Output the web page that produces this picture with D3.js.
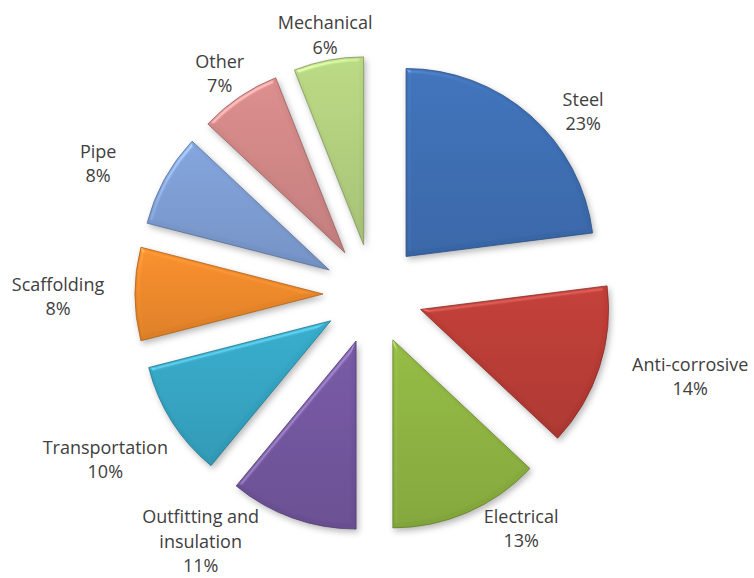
<!DOCTYPE html>
<html>
<head>
<meta charset="utf-8">
<script src="https://cdn.jsdelivr.net/npm/d3@7"></script>
<style>
  html, body { margin: 0; padding: 0; background: #fff; }
  svg { display: block; }
  .lbl { font-family: "Open Sans", "Noto Sans", sans-serif; font-size: 18px; fill: #404040; }
</style>
</head>
<body>
<svg id="chart" width="754" height="578"></svg>
<script>
// Cost breakdown by work package (percent of total)
const categories = ["Steel", "Anti-corrosive", "Electrical", "Outfitting and insulation",
  "Transportation", "Scaffolding", "Pipe", "Other", "Mechanical"];
const shares = [23, 14, 13, 11, 10, 8, 8, 7, 6];
const sliceColors = ["#3b6cb1", "#b83a34", "#8cb13f", "#70539c", "#33a3c2",
  "#ec8728", "#7b9bd1", "#cf8584", "#b0ce7c"];

// Label placement around each slice: angle shift (deg) from the slice middle, distance from pie centre
const labelAngleShift = [7.7, -3.3, -8.8, 15, 0.6, -0.5, -3.5, -0.7, 0.3];
const labelDistance = [278, 328, 278, 302, 315, 315, 304, 268, 263];

const W = 754, H = 578;
const cx = 373, cy = 294;
const radius = 188;
const explode = 50;
const lineHeight = 24.5;

const svg = d3.select("#chart");
svg.append("rect").attr("width", W).attr("height", H).attr("fill", "#fff");

const defs = svg.append("defs");

// Soft bevel highlight plus drop shadow
const f = defs.append("filter").attr("id", "bevel")
  .attr("x", "-15%").attr("y", "-15%").attr("width", "135%").attr("height", "135%")
  .attr("color-interpolation-filters", "sRGB");
f.append("feGaussianBlur").attr("in", "SourceAlpha").attr("stdDeviation", 2.2).attr("result", "blur");
const spec = f.append("feSpecularLighting").attr("in", "blur")
  .attr("surfaceScale", 3).attr("specularConstant", 0.5).attr("specularExponent", 24)
  .attr("lighting-color", "#ffffff").attr("result", "spec");
spec.append("feDistantLight").attr("azimuth", 235).attr("elevation", 36);
f.append("feComposite").attr("in", "spec").attr("in2", "SourceAlpha").attr("operator", "in").attr("result", "specIn");
f.append("feComposite").attr("in", "SourceGraphic").attr("in2", "specIn")
  .attr("operator", "arithmetic").attr("k1", 0).attr("k2", 1).attr("k3", 0.45).attr("k4", 0).attr("result", "lit");
f.append("feGaussianBlur").attr("in", "SourceAlpha").attr("stdDeviation", 3).attr("result", "sblur");
f.append("feOffset").attr("in", "sblur").attr("dx", 2).attr("dy", 3).attr("result", "soff");
f.append("feFlood").attr("flood-color", "#000").attr("flood-opacity", 0.28).attr("result", "sc");
f.append("feComposite").attr("in", "sc").attr("in2", "soff").attr("operator", "in").attr("result", "shadow");
const m = f.append("feMerge");
m.append("feMergeNode").attr("in", "shadow");
m.append("feMergeNode").attr("in", "lit");

sliceColors.forEach((c, i) => {
  const g = defs.append("linearGradient").attr("id", "grad" + i)
    .attr("x1", 0).attr("y1", 0).attr("x2", 0).attr("y2", 1);
  g.append("stop").attr("offset", "0%").attr("stop-color", d3.color(c).brighter(0.12).formatHex());
  g.append("stop").attr("offset", "100%").attr("stop-color", d3.color(c).darker(0.22).formatHex());
});

const pie = d3.pie().value(d => d).sort(null).startAngle(0).endAngle(2 * Math.PI);
const arcs = pie(shares);
const arc = d3.arc().innerRadius(0).outerRadius(radius);

const root = svg.append("g").attr("transform", `translate(${cx},${cy})`);

root.selectAll("path.slice")
  .data(arcs)
  .join("path")
  .attr("class", "slice")
  .attr("d", arc)
  .attr("transform", d => {
    const a = (d.startAngle + d.endAngle) / 2;
    return `translate(${Math.sin(a) * explode},${-Math.cos(a) * explode})`;
  })
  .attr("fill", (d, i) => `url(#grad${i})`)
  .attr("stroke", (d, i) => d3.color(sliceColors[i]).darker(0.9).formatHex())
  .attr("stroke-width", 0.8)
  .attr("stroke-linejoin", "round")
  .attr("filter", "url(#bevel)");

// Wrap long category names onto several lines
function wrap(name, maxChars) {
  const words = name.split(" ");
  const lines = [];
  let cur = "";
  words.forEach(w => {
    const t = cur ? cur + " " + w : w;
    if (t.length > maxChars && cur) { lines.push(cur); cur = w; } else { cur = t; }
  });
  if (cur) lines.push(cur);
  return lines;
}

root.selectAll("text.lbl")
  .data(arcs)
  .join("text")
  .attr("class", "lbl")
  .attr("text-anchor", "middle")
  .each(function (d, i) {
    const a = (d.startAngle + d.endAngle) / 2 + labelAngleShift[i] * Math.PI / 180;
    const x = Math.sin(a) * labelDistance[i];
    const y = -Math.cos(a) * labelDistance[i];
    const lines = wrap(categories[i], 15).concat([d.data + "%"]);
    const first = y - (lines.length - 1) * lineHeight / 2 + 6;
    d3.select(this).selectAll("tspan")
      .data(lines)
      .join("tspan")
      .attr("x", x)
      .attr("y", (t, k) => first + k * lineHeight)
      .text(t => t);
  });
</script>
</body>
</html>
